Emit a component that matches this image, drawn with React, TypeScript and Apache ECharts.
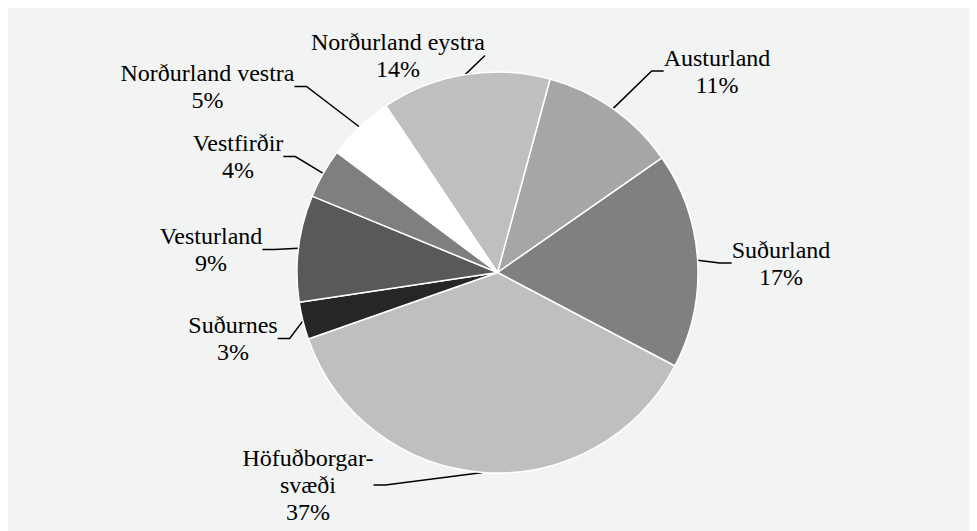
import React, { useEffect, useRef } from "react";
import * as echarts from "echarts";

const regions = [
  "Austurland",
  "Suðurland",
  "Höfuðborgarsvæði",
  "Suðurnes",
  "Vesturland",
  "Vestfirðir",
  "Norðurland vestra",
  "Norðurland eystra",
];
const shares = [11.1, 17.4, 36.9, 3.0, 8.6, 4.0, 5.4, 13.6];
const sliceColors = [
  "#a6a6a6",
  "#808080",
  "#bfbfbf",
  "#262626",
  "#595959",
  "#7f7f7f",
  "#ffffff",
  "#bfbfbf",
];
const displayNames: Record<string, string> = {
  "Höfuðborgarsvæði": "Höfuðborgar-\nsvæði",
};
// label centre positions (chart pixels)
const labelPositions: [number, number][] = [
  [711, 63],
  [775, 255],
  [302, 477],
  [227, 330.5],
  [205, 241.5],
  [232, 148.5],
  [201.5, 78.5],
  [392, 47.5],
];
const labelFonts = [
  "Liberation Serif",
  "Times New Roman",
  "serif",
  "Liberation Serif, serif",
  "Times New Roman, serif",
  "Liberation Serif, Times New Roman",
  "Times New Roman, Liberation Serif",
  "Liberation Serif, Times New Roman, serif",
];

export default function App() {
  const ref = useRef<HTMLDivElement>(null);
  useEffect(() => {
    if (!ref.current) return;
    const chart = echarts.init(ref.current, undefined, { renderer: "svg" });
    chart.setOption({
      animation: false,
      backgroundColor: "#f2f3f3",
      textStyle: { fontFamily: "Liberation Serif" },
      series: [
        {
          type: "pie",
          center: [491.5, 264.5],
          radius: [0, 200.5],
          startAngle: 74.8,
          avoidLabelOverlap: false,
          data: regions.map((name, i) => ({
            name,
            value: shares[i],
            itemStyle: { color: sliceColors[i] },
            label: { fontFamily: labelFonts[i] },
          })),
          itemStyle: { borderColor: "#ffffff", borderWidth: 1.5 },
          label: {
            show: true,
            color: "#000000",
            fontSize: 24,
            lineHeight: 27,
            formatter: (p: any) =>
              `${displayNames[p.name] || p.name}\n${Math.round(p.percent)}%`,
          },
          labelLine: {
            show: true,
            length: 10,
            length2: 12,
            lineStyle: { color: "#000000", width: 1.5 },
          },
          labelLayout: (params: any) => {
            const pos = labelPositions[params.dataIndex];
            return {
              x: pos[0],
              y: pos[1],
              align: "center",
              verticalAlign: "middle",
            };
          },
        },
      ],
    });
    return () => chart.dispose();
  }, []);
  return <div ref={ref} style={{ width: 971, height: 523, marginLeft: -2 }} />;
}
